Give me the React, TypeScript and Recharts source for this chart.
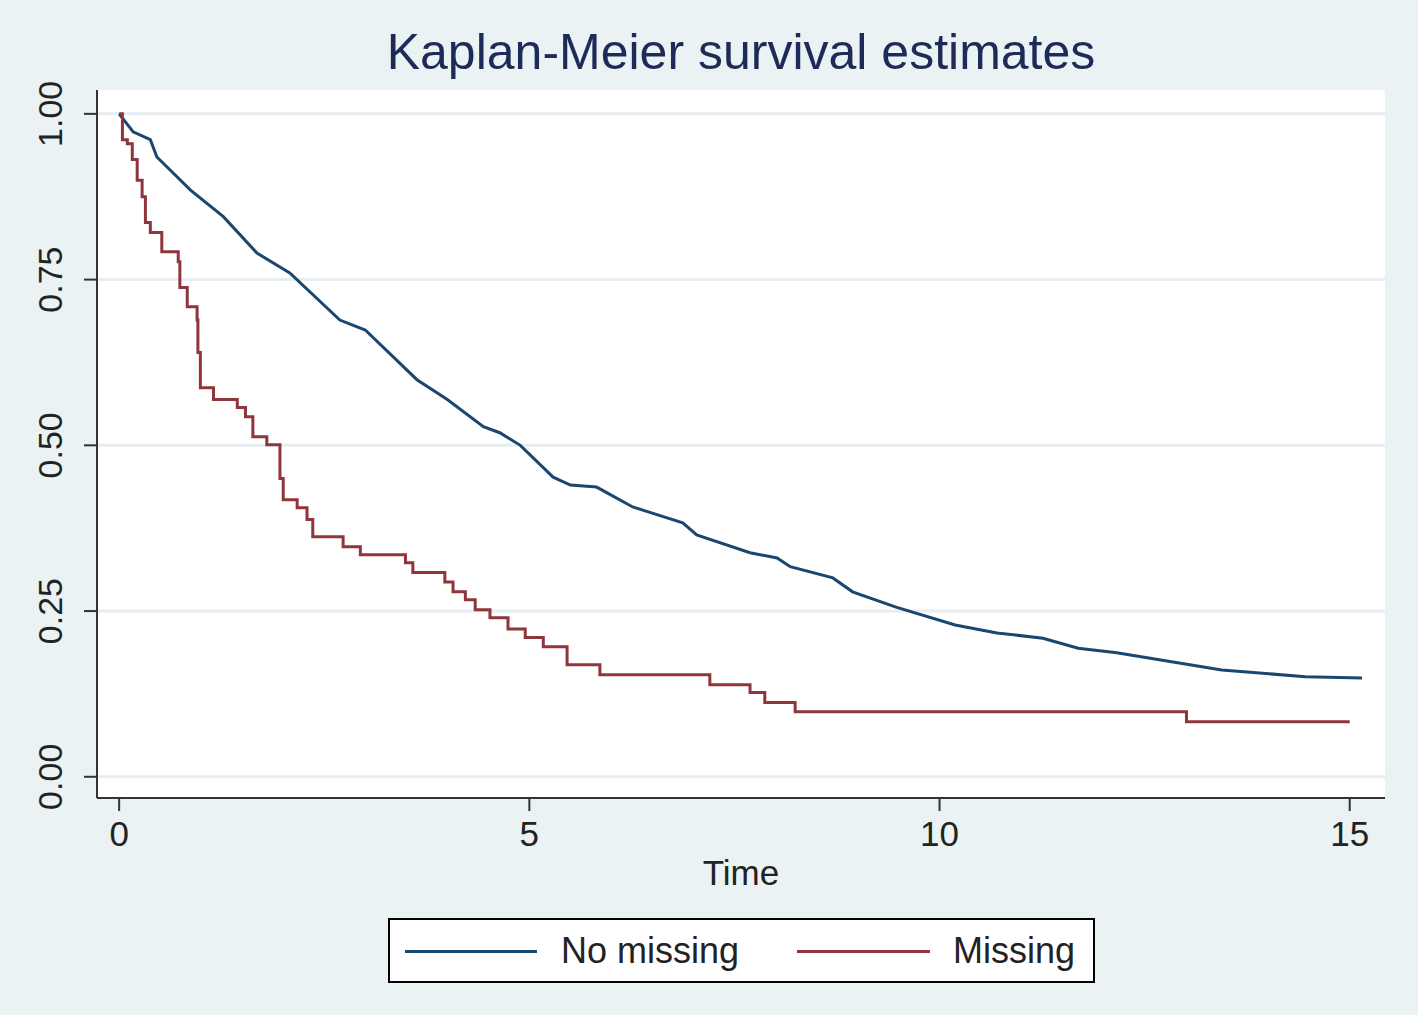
import { LineChart, Line, XAxis, YAxis, CartesianGrid } from "recharts";

// Kaplan-Meier estimates
const blueTimes = [0, 0.17, 0.38, 0.46, 0.87, 1.27, 1.68, 2.08, 2.69, 3.0, 3.63, 4.0, 4.44, 4.64, 4.89, 5.29, 5.5, 5.82, 6.26, 6.87, 7.04, 7.69, 8.02, 8.18, 8.7, 8.94, 9.47, 10.19, 10.7, 11.26, 11.69, 12.16, 13.44, 14.46, 15.15];
const blueSurv = [1.0, 0.973, 0.961, 0.935, 0.885, 0.845, 0.79, 0.76, 0.689, 0.674, 0.599, 0.569, 0.528, 0.519, 0.5, 0.452, 0.44, 0.437, 0.407, 0.383, 0.365, 0.338, 0.33, 0.317, 0.3, 0.279, 0.256, 0.229, 0.217, 0.209, 0.194, 0.187, 0.161, 0.151, 0.149];

const redTimes = [0, 0.04, 0.1, 0.16, 0.22, 0.28, 0.32, 0.38, 0.52, 0.72, 0.74, 0.83, 0.95, 0.96, 0.99, 1.15, 1.44, 1.54, 1.63, 1.8, 1.96, 2.0, 2.17, 2.29, 2.36, 2.73, 2.94, 3.49, 3.58, 3.97, 4.07, 4.22, 4.34, 4.52, 4.74, 4.95, 5.17, 5.46, 5.86, 7.2, 7.69, 7.87, 8.24, 13.01, 15.0];
const redSurv = [1.0, 0.961, 0.955, 0.931, 0.9, 0.875, 0.836, 0.821, 0.792, 0.777, 0.738, 0.709, 0.689, 0.64, 0.587, 0.569, 0.557, 0.543, 0.513, 0.501, 0.45, 0.418, 0.406, 0.388, 0.362, 0.347, 0.335, 0.323, 0.308, 0.294, 0.279, 0.267, 0.252, 0.24, 0.223, 0.21, 0.196, 0.169, 0.154, 0.139, 0.127, 0.112, 0.098, 0.083, 0.083];

const xTicks = [0, 5, 10, 15];
const yTicks = [0, 0.25, 0.5, 0.75, 1];
const seriesNames = ["No missing", "Missing"];

const blueData = blueTimes.map((t, i) => ({ t, s: blueSurv[i] }));
const redData = redTimes.map((t, i) => ({ t, s: redSurv[i] }));

const BLUE = "#1a476f";
const RED = "#90353b";
const BG = "#eaf2f3";
const FONT = '"Liberation Sans", Arial, sans-serif';

const YTick = ({ y, payload }: any) => (
  <text x={50} y={y} transform={`rotate(-90 50 ${y})`} textAnchor="middle" dominantBaseline="central" fontSize={34} fill="#222" fontFamily={FONT}>
    {Number(payload.value).toFixed(2)}
  </text>
);

const XTick = ({ x, payload }: any) => (
  <text x={x} y={833} textAnchor="middle" dominantBaseline="central" fontSize={35} fill="#222" fontFamily={FONT}>
    {payload.value}
  </text>
);

export default function App() {
  return (
    <div style={{ position: "absolute", left: 0, top: 0, width: 1418, height: 1015, background: BG, fontFamily: FONT }}>
      <div style={{ position: "absolute", left: 97, width: 1288, top: 22, textAlign: "center", fontSize: 50, color: "#1e2b58", lineHeight: "60px" }}>
        Kaplan-Meier survival estimates
      </div>
      <LineChart width={1418} height={1015} margin={{ top: 90, right: 33, bottom: 157, left: 0 }}>
        <CartesianGrid fill="#fff" vertical={false} stroke="#e6eef1" strokeWidth={3} horizontalValues={yTicks} />
        <XAxis
          type="number"
          dataKey="t"
          domain={[-0.27, 15.43]}
          ticks={xTicks}
          allowDataOverflow
          height={60}
          tickSize={13}
          tick={<XTick />}
          axisLine={{ stroke: "#333", strokeWidth: 2 }}
          tickLine={{ stroke: "#333", strokeWidth: 2 }}
        />
        <YAxis
          type="number"
          dataKey="s"
          domain={[-0.032, 1.036]}
          ticks={yTicks}
          allowDataOverflow
          width={97}
          tickSize={13}
          tick={<YTick />}
          axisLine={{ stroke: "#333", strokeWidth: 2 }}
          tickLine={{ stroke: "#333", strokeWidth: 2 }}
        />
        <Line data={blueData} dataKey="s" type="linear" stroke={BLUE} strokeWidth={3} dot={false} isAnimationActive={false} name={seriesNames[0]} />
        <Line data={redData} dataKey="s" type="stepAfter" stroke={RED} strokeWidth={3} dot={false} isAnimationActive={false} name={seriesNames[1]} />
      </LineChart>
      <div style={{ position: "absolute", left: 97, width: 1288, top: 853, textAlign: "center", fontSize: 35, color: "#222", lineHeight: "40px" }}>
        Time
      </div>
      <div style={{ position: "absolute", left: 388, top: 918, width: 703, height: 61, border: "2px solid #000", background: "#fff" }}>
        <div style={{ position: "absolute", left: 15, top: 30, width: 132, height: 3, background: BLUE }} />
        <div style={{ position: "absolute", left: 171, top: 0, lineHeight: "61px", fontSize: 36, color: "#222" }}>{seriesNames[0]}</div>
        <div style={{ position: "absolute", left: 407, top: 30, width: 133, height: 3, background: RED }} />
        <div style={{ position: "absolute", left: 563, top: 0, lineHeight: "61px", fontSize: 36, color: "#222" }}>{seriesNames[1]}</div>
      </div>
    </div>
  );
}
